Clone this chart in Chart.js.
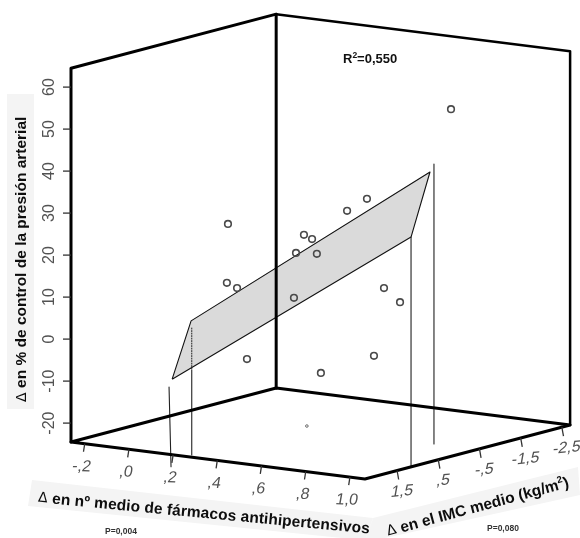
<!DOCTYPE html>
<html><head><meta charset="utf-8">
<style>html,body{margin:0;padding:0;background:#fff}canvas{display:block}</style>
<script src="https://cdn.jsdelivr.net/npm/chart.js@4/dist/chart.umd.js"></script>
</head><body><canvas id="c" width="580" height="538"></canvas>
<script>
// Three-dimensional data: x = fármacos, z = IMC, y = % control
const farmacos = [-0.07,0.846,0.469,0.503,0.367,0.441,0.387,0.5,-0.019,0.083,0.415,0.636,0.634,0.221,0.481,0.572,0.548];
const imc      = [-0.5,-1.0,-0.5,-0.8,0,0.2,0.3,0.4,-0.2,0.1,0.5,-0.5,-0.9,0.6,0.2,-0.6,0.9];
const control  = [21.5,53.6,28.2,30.5,23.1,23.1,19.7,20.5,8.6,8.8,9.7,10.9,6.5,-5.9,-8.5,-5.9,-18.9];
const pointSizes = [3.3,3.3,3.3,3.3,3.3,3.3,3.3,3.3,3.3,3.3,3.3,3.3,3.3,3.3,3.3,3.3,1.3];
const planeFarmacos = [-0.043,-0.043,1.038,1.038];
const planeImc      = [1.0,0.54,0.54,1.0];
const planeControl  = [-11.4,1.3,43.9,29.6];
const farmacoTicks = [-0.2,0,0.2,0.4,0.6,0.8,1.0];
const farmacoLabels = ['-,2',',0',',2',',4',',6',',8','1,0'];
const imcTicks = [1.5,0.5,-0.5,-1.5,-2.5];
const imcLabels = ['1,5',',5','-,5','-1,5','-2,5'];
const controlTicks = [60,50,40,30,20,10,0,-10,-20];
const xRange = [-0.262,1.068], zRange = [2.28,-2.7], yRange = [-24.5,64.5];

function P(x,z,y){
  const u=x-xRange[0], v=z-zRange[0];
  return {x:71+221*u-41.2*v, y:442+27.8*u+10.85*v-4.2*(y-yRange[0])};
}
const [x0,x1]=xRange,[z0,z1]=zRange,[y0,y1]=yRange;
const line=(pts,w,extra)=>Object.assign({type:'scatter',showLine:true,data:pts,borderColor:'#000',borderWidth:w,pointRadius:0,fill:false,clip:false,tension:0,borderCapStyle:'round',borderJoinStyle:'round'},extra||{});

const datasets=[
 {type:'scatter',data:farmacos.map((x,i)=>P(x,imc[i],control[i])),showLine:false,
  pointRadius:pointSizes,pointBackgroundColor:'rgba(255,255,255,0)',pointBorderColor:'#4a4a4a',
  pointBorderWidth:pointSizes.map(s=>s>2?1.6:0.8),clip:false},
 // walls and floor
 line([P(x0,z0,y0),P(x0,z0,y1),P(x0,z1,y1)],3),
 line([P(x0,z1,y1),P(x1,z1,y1),P(x1,z1,y0)],2.5),
 line([P(x0,z1,y1),P(x0,z1,y0)],3),
 line([P(x0,z0,y0),P(x0,z1,y0),P(x1,z1,y0),P(x1,z0,y0),P(x0,z0,y0)],3),
 // drop lines
 line([P(-0.057,1,-13.35),P(-0.048,1,-32.3)],1.1,{borderColor:'#222'}),
 line([P(-0.04,0.54,-10.4),P(-0.04,0.54,-30.6)],1.1,{borderColor:'#222'}),
 line([P(-0.04,0.54,-0.4),P(-0.04,0.54,-10.4)],1,{borderColor:'#222',borderDash:[1,1.5]}),
 line([P(1.038,1,29.6),P(1.038,1,-25.2)],1.1,{borderColor:'#222'}),
 line([P(1.056,0.54,45.9),P(1.056,0.54,-20.75)],1.1,{borderColor:'#222'}),
 // regression plane
 line([...planeFarmacos.map((x,i)=>P(x,planeImc[i],planeControl[i])),P(planeFarmacos[0],planeImc[0],planeControl[0])],1.1,
   {backgroundColor:'#dadada',fill:'shape',borderColor:'#111',borderCapStyle:'butt'})
];

const shapes=[
 {c:'#f4f4f4',p:[[7,94],[34,94],[34,409],[7,409]]},
 {c:'#f4f4f4',p:[[32,480],[373,518],[366,538],[342,538],[28,506]]},
 {c:'#f4f4f4',p:[[373,518],[578,467],[580,495],[385,538],[366,538]]}
];
const decor={id:'decor',
 beforeDatasetsDraw(ch){
  const c=ch.ctx;c.save();
  shapes.forEach(s=>{c.fillStyle=s.c;c.beginPath();s.p.forEach((q,i)=>i?c.lineTo(q[0],q[1]):c.moveTo(q[0],q[1]));c.closePath();c.fill();});
  c.restore();
 },
 afterDatasetsDraw(ch){
  const c=ch.ctx;c.save();
  const px=q=>({x:ch.scales.x.getPixelForValue(q.x),y:ch.scales.y.getPixelForValue(q.y)});
  const tick=(p,dx,dy)=>{c.beginPath();c.moveTo(p.x,p.y);c.lineTo(p.x+dx,p.y+dy);c.stroke();};
  const label=(txt,x,y,m)=>{c.save();c.translate(x,y);c.transform(m[0],m[1],m[2],m[3],0,0);c.fillText(txt,0,0);c.restore();};
  c.strokeStyle='#333';c.lineWidth=1.3;c.fillStyle='#525252';c.textAlign='center';c.textBaseline='middle';
  c.font='16px "Liberation Sans"';
  controlTicks.forEach(v=>{const p=px(P(x0,z0,v));tick(p,-8,0);
    c.save();c.translate(p.x-21,p.y);c.rotate(-Math.PI/2);c.fillText(String(v),0,0);c.restore();});
  farmacoTicks.forEach((v,i)=>{const p=px(P(v,z0,y0));tick(p,-1.2,8);
    label(farmacoLabels[i],p.x-3,p.y+23,[1,0.03,-0.18,1]);});
  imcTicks.forEach((v,i)=>{const p=px(P(x1,v,y0));tick(p,1.6,9);
    label(imcLabels[i],p.x+5,p.y+21,[1,-0.1,-0.18,1]);});
  // titles
  const title=(parts,x,y,rot,spacing)=>{
    c.save();c.translate(x,y);c.rotate(rot);c.textAlign='left';c.textBaseline='middle';c.fillStyle='#0d0d0d';
    if('letterSpacing' in c)c.letterSpacing=spacing+'px';
    let cx=0;parts.forEach(([t,f,dy])=>{c.font=f;c.fillText(t,cx,dy||0);cx+=c.measureText(t).width;});
    c.restore();};
  const B='bold 15.5px "Liberation Sans"',D='14px "DejaVu Sans"';
  title([['Δ ',D],['en % de control de la presión arterial',B]],22,402,-Math.PI/2,0);
  title([['Δ ',D],['en nº medio de fármacos antihipertensivos',B]],38,498,0.094,0.08);
  title([['Δ ',D],['en el IMC medio (kg/m',B],['2','bold 9.5px "Liberation Sans"',-5],[')',B]],387,532,-0.265,0);
  if('letterSpacing' in c)c.letterSpacing='0px';
  c.fillStyle='#111';c.textAlign='left';c.textBaseline='middle';
  c.font='bold 13px "Liberation Sans"';c.fillText('R',343,59);
  let w=c.measureText('R').width;
  c.font='bold 8.5px "Liberation Sans"';c.fillText('2',343+w,56);w+=c.measureText('2').width;
  c.font='bold 13px "Liberation Sans"';c.fillText('=0,550',343+w,59);
  c.fillStyle='#333';c.font='bold 8.5px "Liberation Sans"';
  c.fillText('P=0,004',105,532);c.fillText('P=0,080',487,529);
  c.restore();
 }};

const chart=new Chart(document.getElementById('c'),{
 data:{datasets},
 plugins:[decor],
 options:{responsive:false,animation:false,events:[],
  layout:{padding:0},
  plugins:{legend:{display:false},tooltip:{enabled:false},title:{display:false}},
  scales:{x:{type:'linear',min:0,max:580,display:false},y:{type:'linear',min:0,max:538,reverse:true,display:false}}
 }});
// the library insets the plot area for point overflow: keep the 1:1 mapping of the projection plane
const m=chart.chartArea.left;
chart.options.scales.x.min=m;chart.options.scales.x.max=580-m;
chart.options.scales.y.min=m;chart.options.scales.y.max=538-m;
chart.update();
</script></body></html>
